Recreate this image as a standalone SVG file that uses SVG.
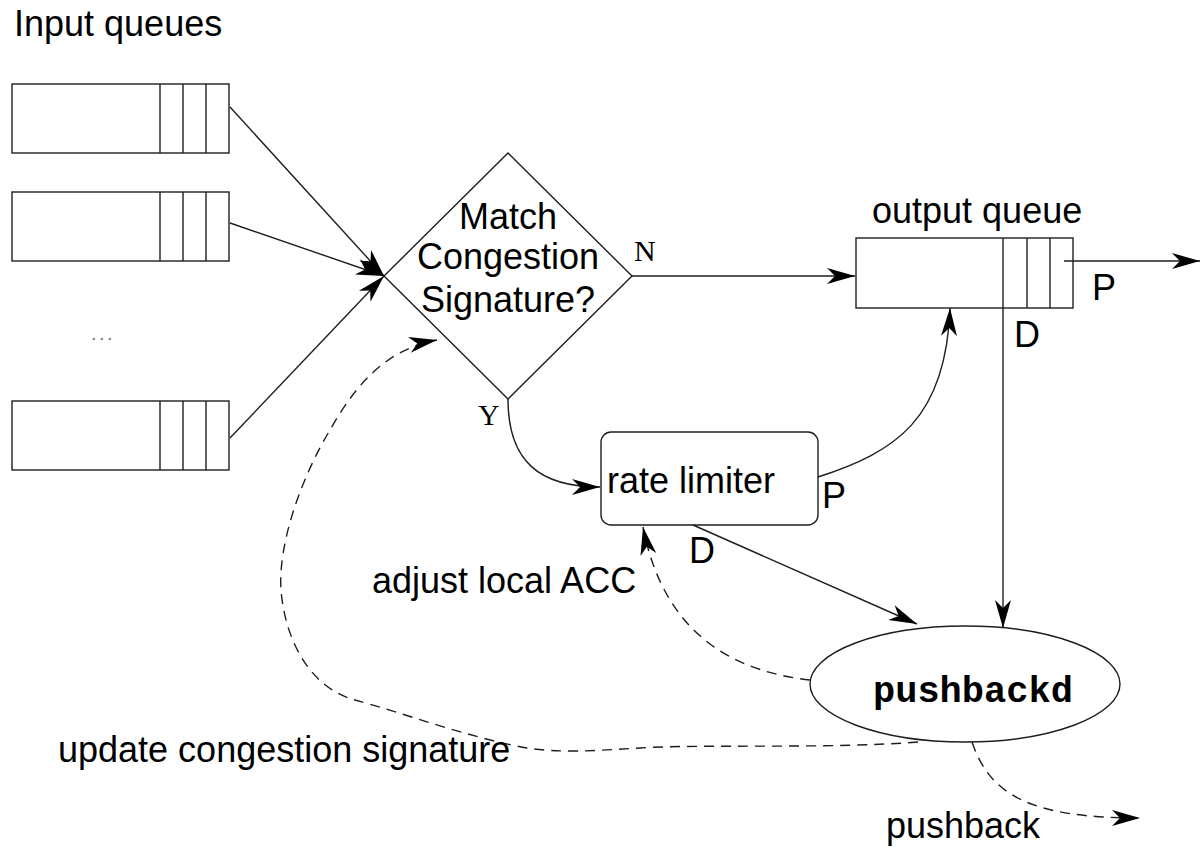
<svg xmlns="http://www.w3.org/2000/svg" width="1201" height="848" viewBox="0 0 1201 848">
<style>
.s{fill:none;stroke:#1e1e1e;stroke-width:1.4}
.b{fill:#fff;stroke:#1e1e1e;stroke-width:1.4}
.d{fill:none;stroke:#1e1e1e;stroke-width:1.4;stroke-dasharray:10 7}
.t{font-family:"Liberation Sans",Arial,sans-serif;font-size:36px;fill:#000}
.r{font-family:"Liberation Serif","Times New Roman",serif;font-size:30px;fill:#000}
.m{font-family:"Liberation Mono","Courier New",monospace;font-size:37px;font-weight:bold;fill:#000}
</style>
<defs>
<marker id="ah" markerUnits="userSpaceOnUse" markerWidth="32" markerHeight="20" viewBox="-30 -10 32 20" refX="0" refY="0" orient="auto">
<path d="M0,0 L-28,-8 L-20,0 L-28,8 Z" fill="#000"/>
</marker>
</defs>
<rect width="1201" height="848" fill="#fff"/>
<text class="t" x="14" y="36">Input queues</text>

<g id="inq1">
<rect class="b" x="12" y="84" width="217" height="69"/>
<path class="s" d="M160,84V153M183,84V153M206,84V153"/>
</g>
<g id="inq2">
<rect class="b" x="12" y="192" width="217" height="69"/>
<path class="s" d="M160,192V261M183,192V261M206,192V261"/>
</g>
<text x="91" y="340" font-family="Liberation Sans,sans-serif" font-size="20" fill="#777" letter-spacing="2.5">...</text>
<g id="inq3">
<rect class="b" x="12" y="401" width="217" height="69"/>
<path class="s" d="M160,401V470M183,401V470M206,401V470"/>
</g>

<g id="decision">
<polygon class="b" points="508,153 632,276 508,399 384,276"/>
<text class="t" x="508" y="229" text-anchor="middle">Match</text>
<text class="t" x="508" y="269" text-anchor="middle">Congestion</text>
<text class="t" x="508" y="312" text-anchor="middle">Signature?</text>
</g>

<g id="outq">
<text class="t" x="872" y="223">output queue</text>
<rect class="b" x="856" y="238" width="217" height="70"/>
<path class="s" d="M1027,238V308M1050,238V308"/>
</g>

<g id="ratelimiter">
<rect class="b" x="601" y="432" width="217" height="93" rx="10" ry="10"/>
<text class="t" x="607" y="493">rate limiter</text>
</g>

<g id="pushbackd">
<ellipse class="b" cx="965" cy="684" rx="155" ry="58"/>
<text class="m" x="873" y="702">pushbackd</text>
</g>

<g id="connectors">
<path class="s" d="M230,107L384,276" marker-end="url(#ah)"/>
<path class="s" d="M230,223L384,276" marker-end="url(#ah)"/>
<path class="s" d="M230,438L384,276" marker-end="url(#ah)"/>
<path class="s" d="M632,276L855,276" marker-end="url(#ah)"/>
<path class="s" d="M508,399C508,462 540,487 600,487" marker-end="url(#ah)"/>
<path class="s" d="M818,477C895,452 946,420 950,308" marker-end="url(#ah)"/>
<path class="s" d="M693,525L917,624" marker-end="url(#ah)"/>
<path class="s" d="M1003,238L1003,628" marker-end="url(#ah)"/>
<path class="s" d="M1064,261L1200,261" marker-end="url(#ah)"/>
<path class="d" d="M810,680C740,672 665,640 643,527" marker-end="url(#ah)"/>
<path class="d" d="M918,742C830,749 700,744 640,748C590,751 560,753 527,748C470,738 400,712 355,700C310,688 285,640 281,590C278,545 300,480 330,430C350,395 380,350 437,340" marker-end="url(#ah)"/>
<path class="d" d="M972,742C990,795 1030,818 1140,818" marker-end="url(#ah)"/>
</g>

<g id="labels">
<text class="r" x="634" y="261">N</text>
<text class="r" x="478" y="425">Y</text>
<text class="t" x="1092" y="300">P</text>
<text class="t" x="1014" y="347">D</text>
<text class="t" x="822" y="508">P</text>
<text class="t" x="689" y="563">D</text>
<text class="t" x="372" y="593">adjust local ACC</text>
<text class="t" x="58" y="762">update congestion signature</text>
<text class="t" x="886" y="838">pushback</text>
</g>
</svg>
